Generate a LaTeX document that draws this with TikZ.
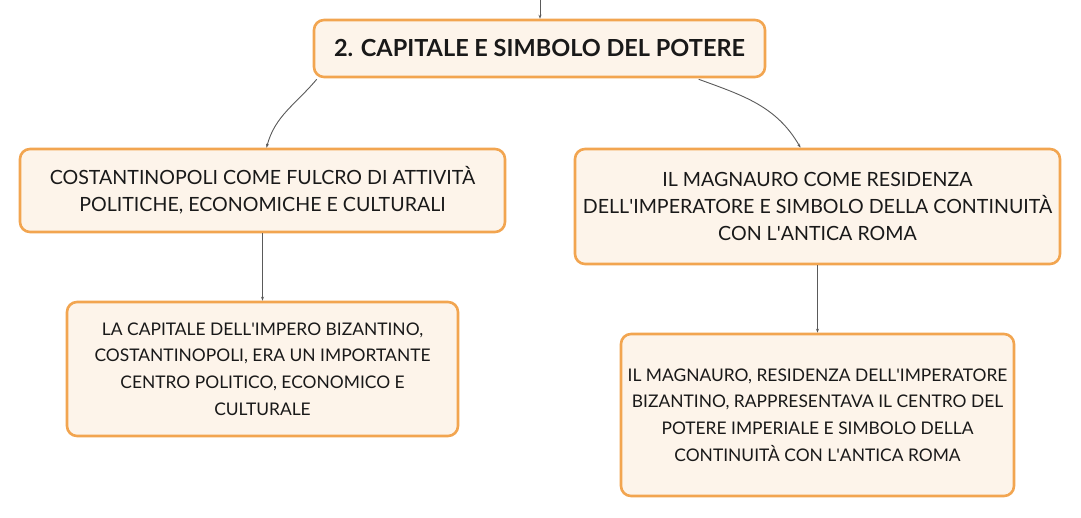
\documentclass[tikz,border=0pt]{standalone}
\usepackage{fontspec}
\setmainfont{Lato}
\usetikzlibrary{arrows.meta}
\definecolor{boxline}{HTML}{F2A550}
\definecolor{boxfill}{HTML}{FDF4EA}
\definecolor{linkgray}{HTML}{5A5A5A}
\newcommand{\ap}{\textquotesingle}

\begin{document}
\begin{tikzpicture}[x=1pt, y=1pt,
  box/.style={draw=boxline, fill=boxfill, line width=2.6pt, rounded corners=10pt,
    align=center, font=\fontsize{19.6}{27}\selectfont, text=black!90, inner sep=0pt},
  note/.style={box, font=\fontsize{17.4}{26.7}\selectfont},
  title/.style={box, font=\fontsize{23.5}{26}\selectfont\bfseries},
  link/.style={draw=linkgray, line width=0.9pt, -{Stealth[length=4pt, width=3pt]}}]
\useasboundingbox (0,0) rectangle (1081,-518);
% nodi
\node[title, minimum width=451, minimum height=57] (tit) at (539.5,-48.5)
  {2. CAPITALE E SIMBOLO DEL POTERE};
\node[box, minimum width=485, minimum height=83] (cos) at (262.5,-190.5)
  {COSTANTINOPOLI COME FULCRO DI ATTIVITÀ\\POLITICHE, ECONOMICHE E CULTURALI};
\node[box, minimum width=485, minimum height=115] (mag) at (817.5,-206.5)
  {IL MAGNAURO COME RESIDENZA\\DELL\ap IMPERATORE E SIMBOLO DELLA CONTINUITÀ\\CON L\ap ANTICA ROMA};
\node[note, minimum width=391, minimum height=134] (cap) at (262.5,-369)
  {LA CAPITALE DELL\ap IMPERO BIZANTINO,\\COSTANTINOPOLI, ERA UN IMPORTANTE\\CENTRO POLITICO, ECONOMICO E\\CULTURALE};
\node[note, minimum width=393, minimum height=162] (res) at (817.5,-415)
  {IL MAGNAURO, RESIDENZA DELL\ap IMPERATORE\\BIZANTINO, RAPPRESENTAVA IL CENTRO DEL\\POTERE IMPERIALE E SIMBOLO DELLA\\CONTINUITÀ CON L\ap ANTICA ROMA};
% collegamenti
\coordinate (sopra) at (540,0);
\draw[link] (sopra) -- (tit.north -| sopra);
\draw[link] ([xshift=4pt, yshift=-1pt]tit.south west) to[out=-130, in=75] ([xshift=4pt]cos.north);
\draw[link] ([xshift=386pt, yshift=-1pt]tit.south west) to[out=-20, in=120] ([xshift=-17pt]mag.north);
\draw[link] (cos.south) -- (cap.north);
\draw[link] (mag.south) -- (res.north);
\end{tikzpicture}
\end{document}
